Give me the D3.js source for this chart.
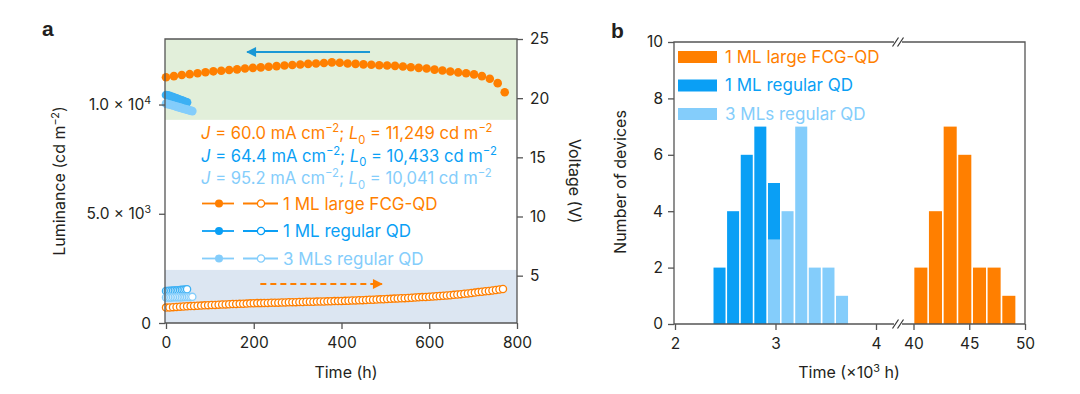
<!DOCTYPE html>
<html>
<head>
<meta charset="utf-8">
<script src="https://cdn.jsdelivr.net/npm/d3@7"></script>
<style>
body { margin: 0; background: #fff; }
text { font-family: Inter, "Open Sans", sans-serif; fill: #231f20; }
</style>
</head>
<body>
<div id="chart"></div>
<script>
var orange = "#ff7f00",
  blue = "#0a9ff5",
  light = "#84cdfb",
  arrowBlue = "#1a98d5",
  axisGrey = "#555",
  fs = 15.5;

// ---- panel a data ----
var lumTimeOrange = [0, 18, 36, 54, 72, 90, 108, 126, 144, 162, 180, 198, 216, 234, 252, 270, 288, 306, 324, 342, 360, 378,
  396, 414, 432, 450, 468, 486, 504, 522, 540, 558, 576, 594, 612, 630, 648, 666, 684, 702, 720, 738, 756, 772];
var lumOrange = [11249, 11300, 11350, 11390, 11430, 11480, 11520, 11550, 11580, 11610, 11650, 11680, 11700, 11730, 11760,
  11790, 11810, 11830, 11860, 11880, 11900, 11930, 11910, 11880, 11860, 11840, 11820, 11800, 11790, 11770, 11740, 11710,
  11680, 11650, 11600, 11560, 11510, 11470, 11430, 11380, 11300, 11180, 10980, 10560];

var lumTimeBlue = [0, 4, 8, 12, 16, 20, 24, 28, 32, 36, 40, 44, 48];
var lumBlue = [10433, 10420, 10395, 10370, 10340, 10310, 10280, 10250, 10220, 10190, 10160, 10130, 10100];
var lumTimeLight = [0, 4, 8, 12, 16, 20, 24, 28, 32, 36, 40, 44, 48, 52, 56, 60];
var lumLight = [10041, 10020, 10000, 9980, 9955, 9930, 9905, 9880, 9860, 9835, 9810, 9790, 9765, 9745, 9720, 9700];

var voltTimeOrange = [0, 8, 16, 24, 32, 40, 48, 56, 64, 72, 80, 88, 96, 104, 112, 120, 128, 136, 144, 152, 160, 168, 176,
  184, 192, 200, 208, 216, 224, 232, 240, 248, 256, 264, 272, 280, 288, 296, 304, 312, 320, 328, 336, 344, 352, 360, 368,
  376, 384, 392, 400, 408, 416, 424, 432, 440, 448, 456, 464, 472, 480, 488, 496, 504, 512, 520, 528, 536, 544, 552, 560,
  568, 576, 584, 592, 600, 608, 616, 624, 632, 640, 648, 656, 664, 672, 680, 688, 696, 704, 712, 720, 728, 736, 744, 752,
  760, 768];
var voltOrange = [2.30, 2.32, 2.34, 2.36, 2.38, 2.40, 2.41, 2.43, 2.44, 2.46, 2.47, 2.49, 2.51, 2.52, 2.53, 2.55, 2.56,
  2.57, 2.58, 2.60, 2.61, 2.62, 2.63, 2.64, 2.66, 2.67, 2.68, 2.68, 2.69, 2.70, 2.71, 2.72, 2.72, 2.73, 2.74, 2.75, 2.76,
  2.76, 2.77, 2.78, 2.79, 2.79, 2.80, 2.81, 2.82, 2.82, 2.83, 2.84, 2.85, 2.85, 2.86, 2.87, 2.88, 2.90, 2.91, 2.92, 2.93,
  2.94, 2.96, 2.97, 2.98, 3.00, 3.01, 3.03, 3.04, 3.06, 3.07, 3.09, 3.10, 3.12, 3.14, 3.15, 3.17, 3.19, 3.20, 3.22, 3.24,
  3.26, 3.28, 3.30, 3.33, 3.35, 3.38, 3.41, 3.44, 3.47, 3.50, 3.54, 3.57, 3.61, 3.64, 3.68, 3.71, 3.75, 3.79, 3.83, 3.87];

var voltTimeBlue = [0, 4, 8, 12, 16, 20, 24, 28, 32, 36, 40, 44, 48];
var voltBlue = [3.70, 3.71, 3.72, 3.73, 3.74, 3.75, 3.76, 3.77, 3.78, 3.80, 3.81, 3.83, 3.85];
var voltTimeLight = [0, 4, 8, 12, 16, 20, 24, 28, 32, 36, 40, 44, 48, 52, 56, 60];
var voltLight = [3.15, 3.15, 3.16, 3.16, 3.17, 3.17, 3.17, 3.18, 3.18, 3.18, 3.19, 3.19, 3.19, 3.20, 3.20, 3.21];

var timeTicks = [0, 200, 400, 600, 800];
var lumTicks = [0, 5000, 10000];
var lumTickLabels = [["0", ""], ["5.0 × 10", "3"], ["1.0 × 10", "4"]];
var voltTicks = [5, 10, 15, 20, 25];
var lumBands = [[9300, 13000, "#e2efda"], [0, 2430, "#dce6f2"]];

var seriesNames = ["1 ML large FCG-QD", "1 ML regular QD", "3 MLs regular QD"];
var currents = ["60.0", "64.4", "95.2"];
var startLum = ["11,249", "10,433", "10,041"];

// ---- panel b data ----
var binCentersBlue = [2.443, 2.578, 2.714, 2.849, 2.985, 3.120, 3.256, 3.391, 3.527, 3.662];
var binWidthBlue = 0.1355;
var countsBlue = [2, 4, 6, 7, 5, 0, 0, 0, 0, 0];
var countsLight = [0, 0, 0, 0, 3, 4, 7, 2, 2, 1];
var binCentersOrange = [40.66, 41.97, 43.29, 44.60, 45.92, 47.23, 48.55];
var binWidthOrange = 1.314;
var countsOrange = [2, 4, 7, 6, 2, 2, 1];
var countTicks = [0, 2, 4, 6, 8, 10];
var timeTicksLow = [2, 3, 4];
var timeTicksHigh = [40, 45, 50];

var colors = [orange, blue, light];

var svg = d3.select("#chart").append("svg")
  .attr("width", 1080)
  .attr("height", 394);

// rich text helper: parts are [string, kind] with kind "", "i", "sup", "sub"
function rich(t, parts, size) {
  var cur = 0;
  parts.forEach(function (p) {
    if (p[0] === "") return;
    var off = p[1] === "sup" ? -0.4 * size : p[1] === "sub" ? 0.28 * size : 0;
    var s = t.append("tspan").text(p[0]).attr("dy", off - cur);
    cur = off;
    if (p[1] === "i") s.style("font-style", "italic");
    if (p[1] === "sup" || p[1] === "sub") s.attr("font-size", size * 0.68);
  });
  return t;
}

function styleAxis(g) {
  g.select(".domain").remove();
  g.selectAll(".tick line").attr("stroke", axisGrey).attr("stroke-width", 1.3);
  g.selectAll(".tick text").attr("font-size", fs).attr("fill", "#231f20")
    .style("font-family", "Inter, 'Open Sans', sans-serif");
}

// ================= panel a =================
var ax = { left: 165, right: 517, top: 39, bottom: 323 };
var x = d3.scaleLinear().domain([0, 800]).range([ax.left + 1, ax.right]);
var yL = d3.scaleLinear().domain([0, 13000]).range([ax.bottom, ax.top]);
var yV = d3.scaleLinear().domain([1, 25]).range([ax.bottom, ax.top]);

var a = svg.append("g").attr("id", "panel-a");

a.selectAll("rect.band")
  .data(lumBands)
  .enter().append("rect")
  .attr("class", "band")
  .attr("x", ax.left)
  .attr("width", ax.right - ax.left)
  .attr("y", function (d) { return yL(d[1]); })
  .attr("height", function (d) { return yL(d[0]) - yL(d[1]); })
  .attr("fill", function (d) { return d[2]; });

// arrows
var defs = svg.append("defs");
defs.append("marker").attr("id", "headBlue").attr("viewBox", "0 0 10 10")
  .attr("refX", 9).attr("refY", 5).attr("markerWidth", 5).attr("markerHeight", 4.5)
  .attr("orient", "auto").attr("markerUnits", "strokeWidth")
  .append("path").attr("d", "M0,0 L10,5 L0,10 Z").attr("fill", arrowBlue);
defs.append("marker").attr("id", "headOrange").attr("viewBox", "0 0 10 10")
  .attr("refX", 9).attr("refY", 5).attr("markerWidth", 5).attr("markerHeight", 4.5)
  .attr("orient", "auto").attr("markerUnits", "strokeWidth")
  .append("path").attr("d", "M0,0 L10,5 L0,10 Z").attr("fill", orange);

a.append("line")
  .attr("x1", x(465)).attr("x2", x(185)).attr("y1", 52).attr("y2", 52)
  .attr("stroke", arrowBlue).attr("stroke-width", 2.2)
  .attr("marker-end", "url(#headBlue)");
a.append("line")
  .attr("x1", x(215)).attr("x2", x(492)).attr("y1", 284).attr("y2", 284)
  .attr("stroke", orange).attr("stroke-width", 2.2).attr("stroke-dasharray", "6,4")
  .attr("marker-end", "url(#headOrange)");

// voltage (open circles)
var voltSeries = [
  { t: voltTimeOrange, v: voltOrange, c: orange },
  { t: voltTimeBlue, v: voltBlue, c: "#3cb0f4" },
  { t: voltTimeLight, v: voltLight, c: light }
];
voltSeries.forEach(function (s) {
  a.append("g").selectAll("circle")
    .data(s.t)
    .enter().append("circle")
    .attr("cx", function (d) { return x(d); })
    .attr("cy", function (d, i) { return yV(s.v[i]); })
    .attr("r", 3.6)
    .attr("fill", "#fff")
    .attr("stroke", s.c)
    .attr("stroke-width", 1.3);
});

// luminance (filled circles)
var lumSeries = [
  { t: lumTimeOrange, v: lumOrange, c: orange },
  { t: lumTimeBlue, v: lumBlue, c: "#3cb0f4" },
  { t: lumTimeLight, v: lumLight, c: light }
];
lumSeries.forEach(function (s) {
  a.append("g").selectAll("circle")
    .data(s.t)
    .enter().append("circle")
    .attr("cx", function (d) { return x(d); })
    .attr("cy", function (d, i) { return yL(s.v[i]); })
    .attr("r", 4.3)
    .attr("fill", s.c);
});

// frame
a.append("path")
  .attr("d", "M" + ax.left + "," + ax.bottom + "V" + ax.top + "H" + ax.right + "V" + ax.bottom + "H" + ax.left)
  .attr("fill", "none").attr("stroke", axisGrey).attr("stroke-width", 1.3);

a.append("g")
  .attr("transform", "translate(0," + ax.bottom + ")")
  .call(d3.axisBottom(x).tickValues(timeTicks).tickSize(6).tickPadding(8))
  .call(styleAxis);

a.append("g")
  .attr("transform", "translate(" + ax.left + ",0)")
  .call(d3.axisLeft(yL).tickValues(lumTicks).tickSize(6).tickFormat(""))
  .call(styleAxis);

a.selectAll("text.lumtick")
  .data(lumTicks)
  .enter().append("text")
  .attr("class", "lumtick")
  .attr("x", ax.left - 14)
  .attr("y", function (d) { return yL(d) + 5.5; })
  .attr("text-anchor", "end")
  .attr("font-size", fs)
  .each(function (d, i) {
    rich(d3.select(this), [[lumTickLabels[i][0], ""], [lumTickLabels[i][1], "sup"]], fs);
  });

a.append("g")
  .attr("transform", "translate(" + ax.right + ",0)")
  .call(d3.axisRight(yV).tickValues(voltTicks).tickSize(6).tickPadding(7))
  .call(styleAxis);

// axis titles
a.append("text")
  .attr("x", (ax.left + ax.right) / 2 + 5).attr("y", 378)
  .attr("text-anchor", "middle").attr("font-size", 16)
  .text("Time (h)");

rich(a.append("text")
  .attr("transform", "translate(65,181) rotate(-90)")
  .attr("text-anchor", "middle").attr("font-size", 16),
  [["Luminance (cd m", ""], ["−2", "sup"], [")", ""]], 16);

a.append("text")
  .attr("transform", "translate(569,181) rotate(90)")
  .attr("text-anchor", "middle").attr("font-size", 16)
  .text("Voltage (V)");

// annotations J / L0
currents.forEach(function (c, i) {
  var t = a.append("text")
    .attr("x", 201).attr("y", 139 + i * 22.5)
    .attr("font-size", 16.6)
    .style("fill", colors[i]);
  rich(t, [["J", "i"], [" = " + c + " mA cm", ""], ["−2", "sup"], ["; ", ""], ["L", "i"], ["0", "sub"],
    [" = " + startLum[i] + " cd m", ""], ["−2", "sup"]], 16.6);
  t.selectAll("tspan").style("fill", colors[i]);
});

// legend
var leg = a.selectAll("g.leg")
  .data(seriesNames)
  .enter().append("g")
  .attr("class", "leg")
  .attr("transform", function (d, i) { return "translate(0," + (203.5 + i * 27.5) + ")"; });

leg.append("line").attr("x1", 202).attr("x2", 234).attr("y1", 0).attr("y2", 0)
  .attr("stroke", function (d, i) { return colors[i]; }).attr("stroke-width", 1.8);
leg.append("circle").attr("cx", 219).attr("cy", 0).attr("r", 4)
  .attr("fill", function (d, i) { return colors[i]; });
leg.append("line").attr("x1", 243).attr("x2", 278).attr("y1", 0).attr("y2", 0)
  .attr("stroke", function (d, i) { return colors[i]; }).attr("stroke-width", 1.8);
leg.append("circle").attr("cx", 261).attr("cy", 0).attr("r", 3.6)
  .attr("fill", "#fff").attr("stroke-width", 1.3)
  .attr("stroke", function (d, i) { return colors[i]; });
leg.append("text").attr("x", 283).attr("y", 6)
  .attr("font-size", 17)
  .style("fill", function (d, i) { return colors[i]; })
  .text(function (d) { return d; });

a.append("text").attr("x", 42).attr("y", 36)
  .attr("font-size", 21).attr("font-weight", "bold")
  .style("font-family", "'Liberation Sans', Arial, sans-serif")
  .text("a");

// ================= panel b =================
var bx = { left: 674, right: 1025, top: 42, bottom: 324, brk: 898 };
var xb1 = d3.scaleLinear().domain([2, 4]).range([675, 876]);
var xb2 = d3.scaleLinear().domain([40, 50]).range([913.5, 1025]);
var yb = d3.scaleLinear().domain([0, 10]).range([bx.bottom, bx.top]);

var b = svg.append("g").attr("id", "panel-b");

function bars(centers, width, counts, color, scale) {
  b.append("g").selectAll("rect")
    .data(centers.filter(function (c, i) { return counts[i] > 0; }).map(function (c) {
      return [c, counts[centers.indexOf(c)]];
    }))
    .enter().append("rect")
    .attr("x", function (d) { return scale(d[0] - width / 2) + 0.8; })
    .attr("width", function (d) { return scale(d[0] + width / 2) - scale(d[0] - width / 2) - 1.6; })
    .attr("y", function (d) { return yb(d[1]); })
    .attr("height", function (d) { return yb(0) - yb(d[1]); })
    .attr("fill", color);
}
bars(binCentersBlue, binWidthBlue, countsBlue, blue, xb1);
bars(binCentersBlue, binWidthBlue, countsLight, light, xb1);
bars(binCentersOrange, binWidthOrange, countsOrange, orange, xb2);

// frame with breaks
var gap = 4;
b.append("path")
  .attr("d", "M" + bx.left + "," + bx.bottom + "V" + bx.top + "H" + (bx.brk - gap) +
    "M" + (bx.brk + gap) + "," + bx.top + "H" + bx.right + "V" + bx.bottom + "H" + (bx.brk + gap) +
    "M" + (bx.brk - gap) + "," + bx.bottom + "H" + bx.left)
  .attr("fill", "none").attr("stroke", axisGrey).attr("stroke-width", 1.3);

[bx.top, bx.bottom].forEach(function (yy) {
  [-2.5, 2.5].forEach(function (dx) {
    b.append("line")
      .attr("x1", bx.brk + dx - 3).attr("y1", yy + 4.5)
      .attr("x2", bx.brk + dx + 3).attr("y2", yy - 4.5)
      .attr("stroke", "#333").attr("stroke-width", 1.2);
  });
});

b.append("g")
  .attr("transform", "translate(0," + bx.bottom + ")")
  .call(d3.axisBottom(xb1).tickValues(timeTicksLow).tickSize(6).tickPadding(8).tickFormat(d3.format("d")))
  .call(styleAxis);
b.append("g")
  .attr("transform", "translate(0," + bx.bottom + ")")
  .call(d3.axisBottom(xb2).tickValues(timeTicksHigh).tickSize(6).tickPadding(8).tickFormat(d3.format("d")))
  .call(styleAxis);
b.append("g")
  .attr("transform", "translate(" + bx.left + ",0)")
  .call(d3.axisLeft(yb).tickValues(countTicks).tickSize(6).tickPadding(5))
  .call(styleAxis);

rich(b.append("text")
  .attr("x", 849).attr("y", 378)
  .attr("text-anchor", "middle").attr("font-size", 16),
  [["Time (×10", ""], ["3", "sup"], [" h)", ""]], 16);

b.append("text")
  .attr("transform", "translate(626,182) rotate(-90)")
  .attr("text-anchor", "middle").attr("font-size", 16)
  .text("Number of devices");

var legB = b.selectAll("g.legb")
  .data(seriesNames)
  .enter().append("g")
  .attr("class", "legb")
  .attr("transform", function (d, i) { return "translate(0," + (51 + i * 28.5) + ")"; });
legB.append("rect").attr("x", 678).attr("y", 0).attr("width", 39).attr("height", 12)
  .attr("fill", function (d, i) { return colors[i]; });
legB.append("text").attr("x", 725).attr("y", 11.5)
  .attr("font-size", 17)
  .style("fill", function (d, i) { return colors[i]; })
  .text(function (d) { return d; });

b.append("text").attr("x", 611).attr("y", 38)
  .attr("font-size", 21).attr("font-weight", "bold")
  .style("font-family", "'Liberation Sans', Arial, sans-serif")
  .text("b");
</script>
</body>
</html>
